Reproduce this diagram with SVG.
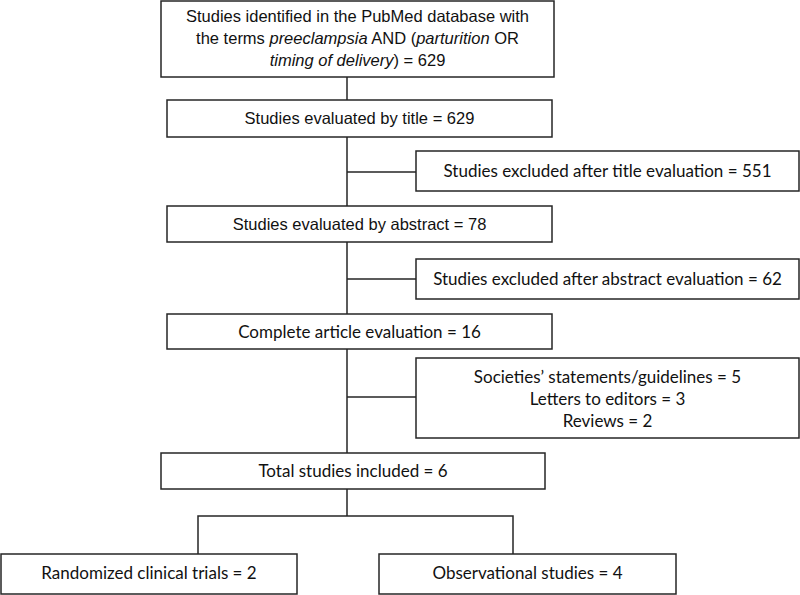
<svg xmlns="http://www.w3.org/2000/svg" width="800" height="595" viewBox="0 0 800 595">
<style>
.box{fill:#fff;stroke:#262626;stroke-width:1.5}
.ln{fill:none;stroke:#262626;stroke-width:1.5}
.a{font-family:"Liberation Sans",Arial,sans-serif;font-size:16.5px;fill:#111;text-anchor:middle}
.c{font-family:Lato,"Open Sans",sans-serif;font-size:17px;fill:#111;text-anchor:middle}
</style>
<rect width="800" height="595" fill="#fff"/>
<g id="connectors">
<path class="ln" d="M347,77V100M347,137V206M347,242V314M347,349V453M347,489V516M347,172H416M347,279H416M347,397H416M198,554V516H513V554"/>
</g>
<g id="n1">
<rect class="box" x="161" y="1" width="393" height="76"/>
<text class="a" x="357.5" y="22">Studies identified in the PubMed database with</text>
<text class="a" x="357.5" y="44">the terms <tspan font-style="italic">preeclampsia</tspan> AND (<tspan font-style="italic">parturition</tspan> OR</text>
<text class="a" x="357.5" y="66"><tspan font-style="italic">timing of delivery</tspan>) = 629</text>
</g>
<g id="n2">
<rect class="box" x="167" y="100" width="385" height="37"/>
<text class="a" x="359.5" y="124">Studies evaluated by title = 629</text>
</g>
<g id="n3">
<rect class="box" x="416" y="151" width="383" height="40"/>
<text class="c" x="607.5" y="177">Studies excluded after title evaluation = 551</text>
</g>
<g id="n4">
<rect class="box" x="167" y="206" width="385" height="36"/>
<text class="a" x="359.5" y="230">Studies evaluated by abstract = 78</text>
</g>
<g id="n5">
<rect class="box" x="416" y="259" width="383" height="40"/>
<text class="c" x="607.5" y="285">Studies excluded after abstract evaluation = 62</text>
</g>
<g id="n6">
<rect class="box" x="167" y="314" width="385" height="35"/>
<text class="c" x="359.5" y="338">Complete article evaluation = 16</text>
</g>
<g id="n7">
<rect class="box" x="416" y="358" width="383" height="80"/>
<text class="c" x="607.5" y="383">Societies’ statements/guidelines = 5</text>
<text class="c" x="607.5" y="405">Letters to editors = 3</text>
<text class="c" x="607.5" y="427">Reviews = 2</text>
</g>
<g id="n8">
<rect class="box" x="161" y="453" width="384" height="36"/>
<text class="c" x="353" y="477">Total studies included = 6</text>
</g>
<g id="n9">
<rect class="box" x="1" y="554" width="296" height="40"/>
<text class="c" x="149" y="579">Randomized clinical trials = 2</text>
</g>
<g id="n10">
<rect class="box" x="379" y="554" width="297" height="40"/>
<text class="c" x="527.5" y="579">Observational studies = 4</text>
</g>
</svg>
